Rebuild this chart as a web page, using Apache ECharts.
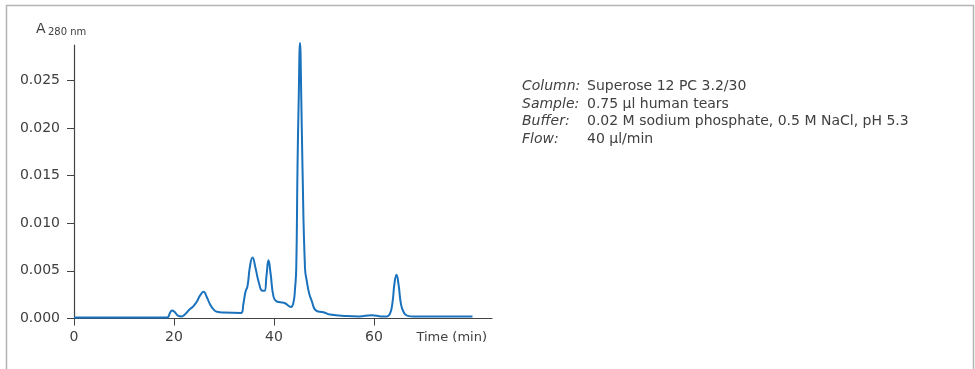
<!DOCTYPE html>
<html>
<head>
<meta charset="utf-8">
<script src="https://cdn.jsdelivr.net/npm/echarts@6/dist/echarts.min.js"></script>
<style>
  html, body { margin: 0; padding: 0; background: #fff; }
  #chart { width: 975px; height: 369px; }
</style>
</head>
<body>
<div id="chart"></div>
<script>
// chromatogram
var timeMin = [0, 10, 18.5, 18.9, 19.2, 19.6, 20.1, 20.8, 21.5, 22.3, 23.0, 23.9, 24.6, 25.2, 25.9, 26.6, 27.2, 28.0, 28.6, 30.0,
  33.4, 33.9, 34.3, 34.7, 35.2, 35.7, 36.3, 37.0, 37.7, 38.1, 38.5, 38.9, 39.3, 39.9, 40.5, 41.3, 42.2, 43.0, 43.4, 43.9,
  44.2, 44.45, 44.7, 44.93, 45.2, 45.47, 45.7, 46.2, 46.6, 47.0, 47.5, 48.5, 49.9, 51.2, 54.5, 57.0, 59.5, 61.5, 62.5,
  63.2, 63.7, 64.1, 64.5, 64.9, 65.4, 65.9, 66.6, 68.0, 74.0, 79.7];
var absorbance = [0.0001, 0.0001, 0.0001, 0.0002, 0.0006, 0.00085, 0.0007, 0.0003, 0.0002, 0.0005, 0.0009, 0.0013, 0.0018, 0.0024, 0.0028, 0.0022, 0.0015, 0.0009, 0.0007, 0.00062,
  0.00058, 0.0016, 0.0028, 0.0034, 0.0055, 0.0064, 0.0053, 0.0037, 0.0029, 0.0029, 0.0045, 0.0061, 0.0048, 0.0023, 0.0018, 0.0017, 0.0016, 0.0013, 0.0012, 0.0017,
  0.0031, 0.0053, 0.0158, 0.0227, 0.0289, 0.0227, 0.0158, 0.0053, 0.0038, 0.0027, 0.0019, 0.0008, 0.00066, 0.00042, 0.00026, 0.00022, 0.00035, 0.00022, 0.0002,
  0.0005, 0.0017, 0.0037, 0.0046, 0.0036, 0.0015, 0.0007, 0.0003, 0.0002, 0.0002, 0.0002];

var xTicks = [0, 20, 40, 60];
var yTicks = [0, 0.005, 0.01, 0.015, 0.02, 0.025];

var infoLabels = ["Column", "Sample", "Buffer", "Flow"];
var infoValues = ["Superose 12 PC 3.2/30", "0.75 µl human tears", "0.02 M sodium phosphate, 0.5 M NaCl, pH 5.3", "40 µl/min"];

var chart = echarts.init(document.getElementById("chart"));

var points = timeMin.map(function(t, i) { return [t, absorbance[i]]; });
var textColor = "#404040";
var fontFamily = "DejaVu Sans, sans-serif";

var graphics = [
  {
    type: "rect",
    shape: { x: 6.5, y: 5.5, width: 967, height: 420 },
    style: { fill: "none", stroke: "#b4b4b4", lineWidth: 1.5 },
    silent: true
  },
  {
    type: "text", left: 36, top: 22,
    style: { text: "A", font: "14px " + fontFamily, fill: textColor }
  },
  {
    type: "text", left: 48, top: 27.5,
    style: { text: "280 nm", font: "10px " + fontFamily, fill: textColor }
  }
];

infoLabels.forEach(function(lab, i) {
  var y = 79 + i * 17.9;
  graphics.push({
    type: "text", left: 522, top: y,
    style: { text: lab + ":", font: "italic 14px " + fontFamily, fill: textColor }
  });
  graphics.push({
    type: "text", left: 587, top: y,
    style: { text: infoValues[i], font: "14px " + fontFamily, fill: textColor }
  });
});

var option = {
  animation: false,
  backgroundColor: "#fff",
  grid: { left: 74, right: 483, top: 45, bottom: 50.5 },
  xAxis: {
    type: "value",
    min: 0,
    max: 83.6,
    name: "Time (min)",
    nameLocation: "end",
    nameGap: -5,
    nameTextStyle: {
      color: textColor, fontSize: 13, fontFamily: fontFamily,
      align: "right", verticalAlign: "top", padding: [13, 0, 0, 0]
    },
    splitLine: { show: false },
    axisLine: { lineStyle: { color: "#444", width: 1.2 } },
    axisTick: { length: 7, customValues: xTicks, lineStyle: { color: "#444" } },
    axisLabel: { customValues: xTicks, color: textColor, fontSize: 14, fontFamily: fontFamily, margin: 12 }
  },
  yAxis: {
    type: "value",
    min: 0,
    max: 0.0287,
    splitLine: { show: false },
    axisLine: { show: true, lineStyle: { color: "#444", width: 1.2 } },
    axisTick: { show: true, length: 7, customValues: yTicks, lineStyle: { color: "#444" } },
    axisLabel: {
      customValues: yTicks, color: textColor, fontSize: 14, fontFamily: fontFamily, margin: 14,
      formatter: function(v) { return v.toFixed(3); }
    }
  },
  graphic: graphics,
  series: [
    {
      type: "line",
      data: points,
      showSymbol: false,
      smooth: 0.5,
      clip: false,
      lineStyle: { color: "#1a72bd", width: 2 }
    }
  ]
};
chart.setOption(option);
</script>
</body>
</html>
